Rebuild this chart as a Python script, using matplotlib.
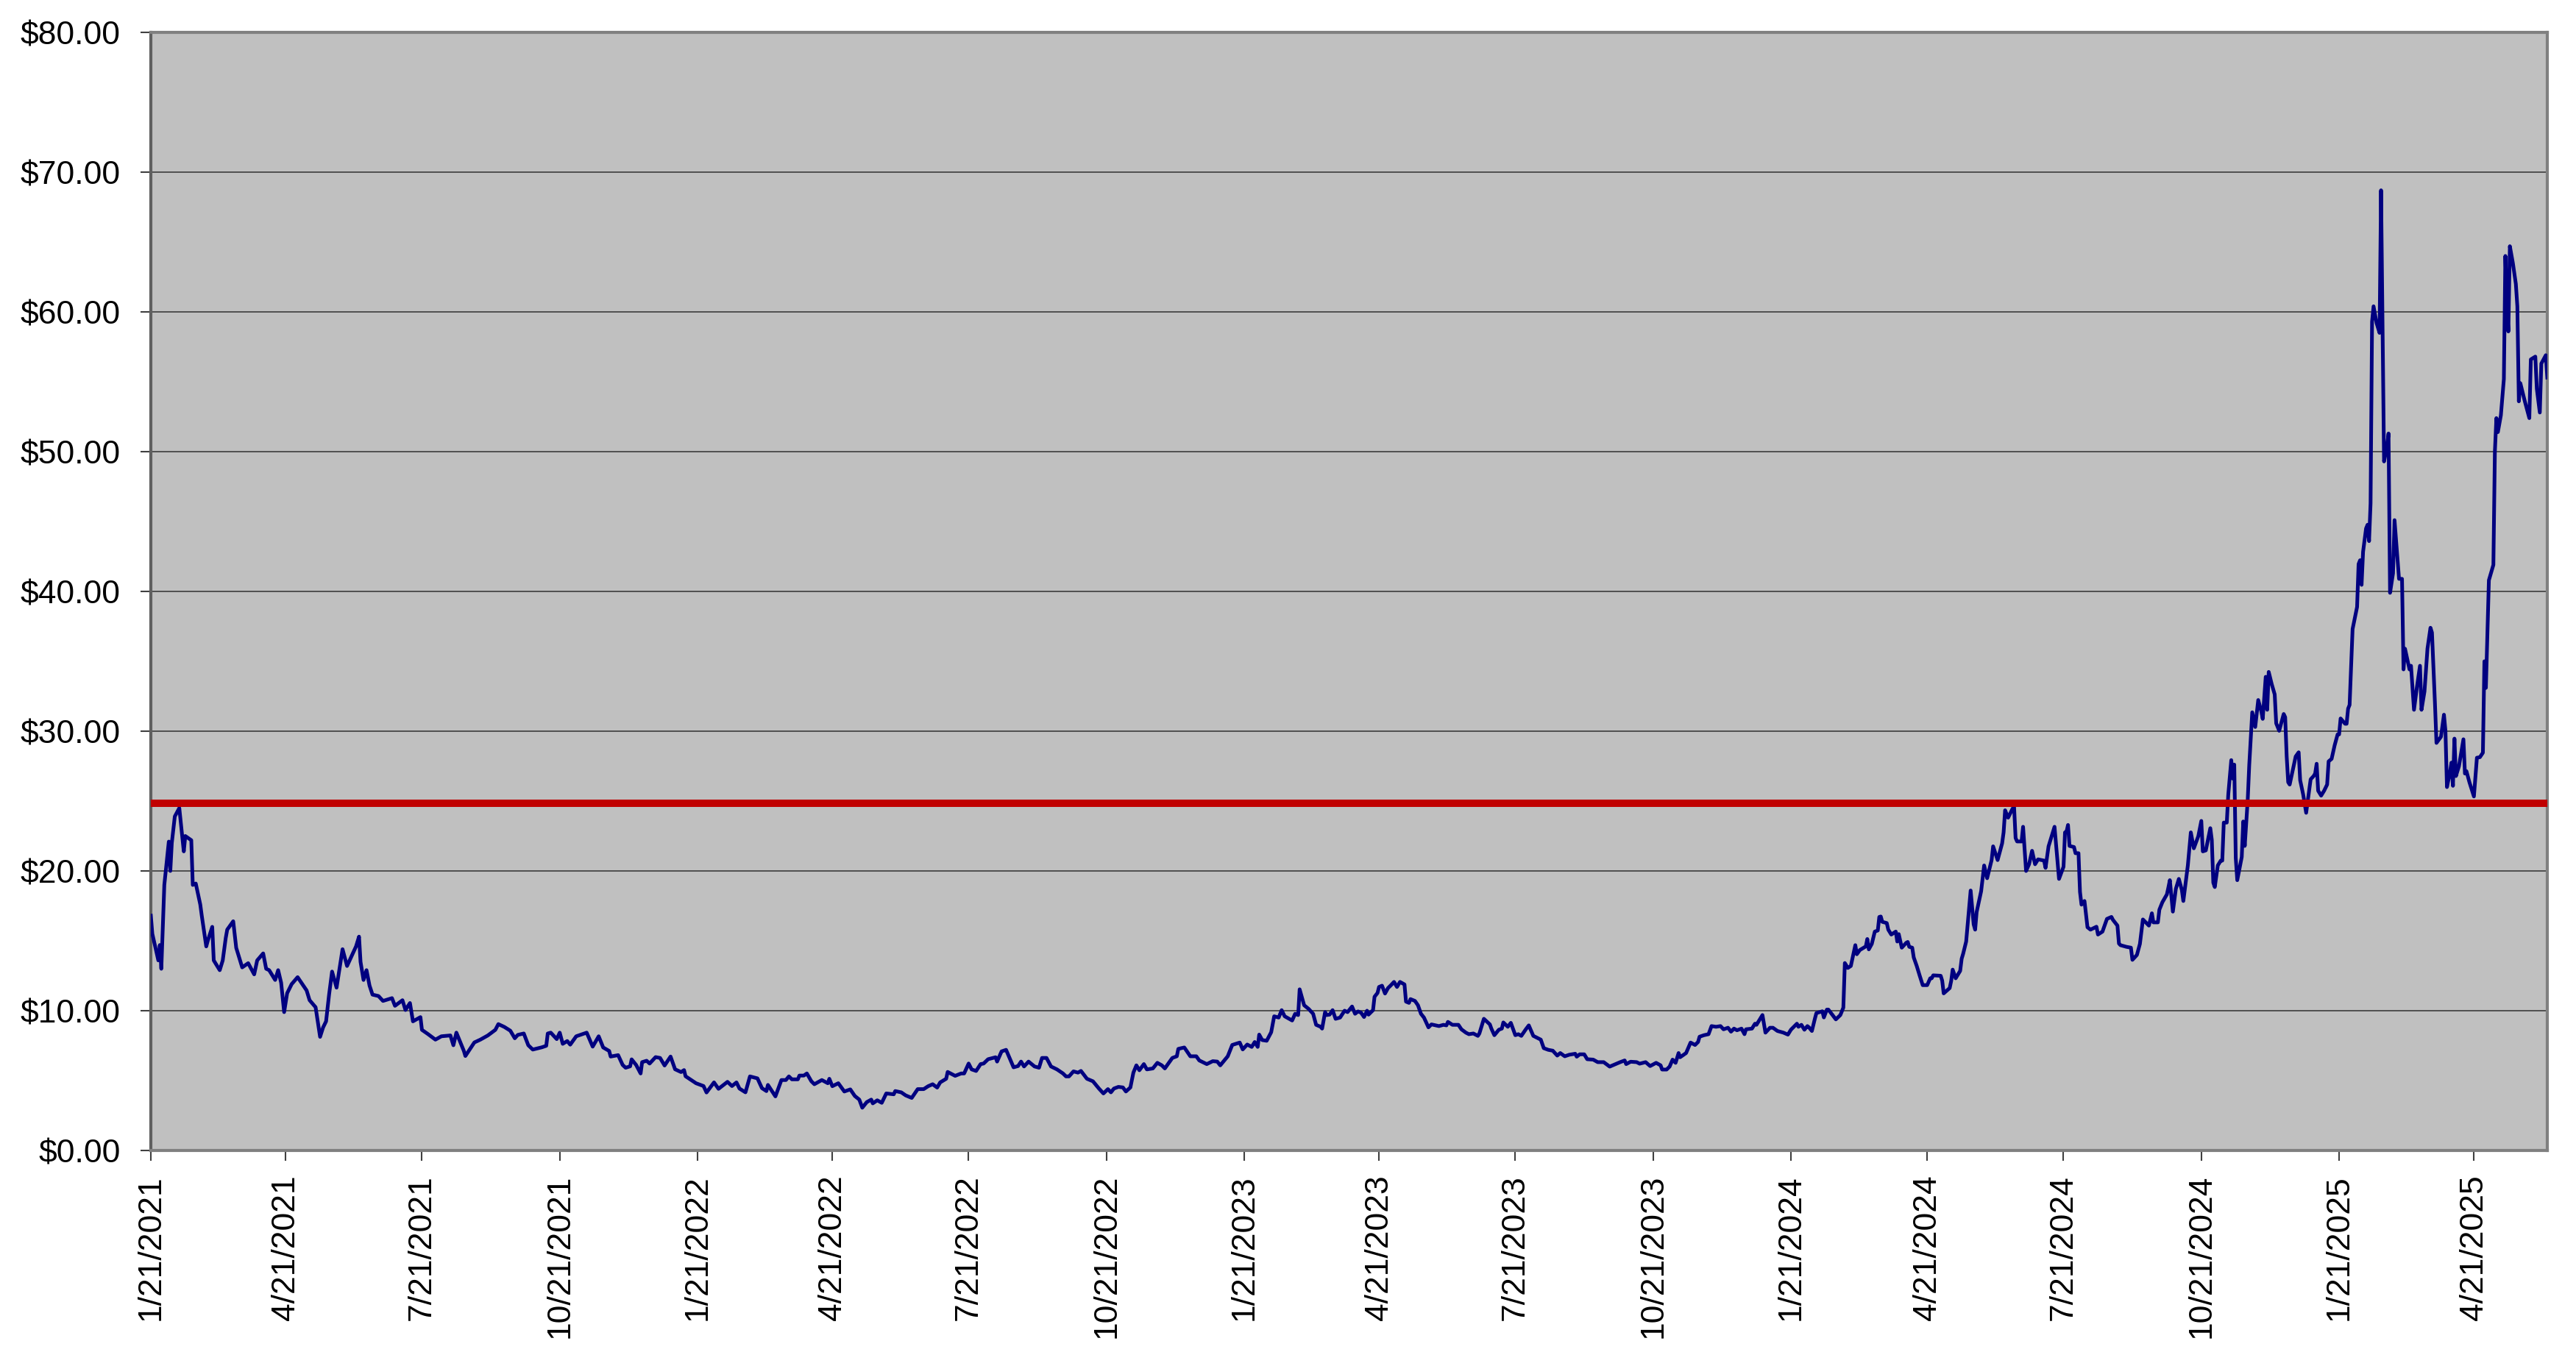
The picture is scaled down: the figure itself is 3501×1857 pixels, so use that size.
import matplotlib
matplotlib.use("Agg")
import matplotlib.pyplot as plt
import matplotlib.ticker as mticker
import pandas as pd

plt.rcParams['font.family'] = ['Liberation Sans', 'DejaVu Sans']

# price series: days after the first date, and close price
start_date = "2021-01-21"

day_offsets = [
    # 2021
    0, 1, 5, 6, 7, 9, 12, 13, 14, 16,
    19, 22, 23, 27, 28, 30, 33, 34, 37, 38,
    41, 42, 46, 48, 50, 51, 55, 57, 61, 65,
    69, 71, 75, 77, 79, 83, 85, 87, 89, 91,
    94, 98, 104, 106, 110, 113, 115, 117, 119, 121,
    124, 128, 131, 134, 137, 139, 140, 142, 144, 146,
    148, 152, 155, 161, 163, 168, 170, 173, 175, 180,
    181, 185, 190, 194, 200, 202, 204, 209, 210, 216,
    220, 225, 230, 232, 236, 240, 243, 245, 249, 252,
    255, 261, 264, 265, 267, 271, 273, 275, 278, 280,
    284, 291, 295, 299, 302, 306, 307, 312, 315, 317,
    320, 321, 324, 327, 328, 331, 333, 337, 340, 343,
    347, 350, 354, 356, 357, 364, 369, 371, 376, 379,
    385, 388,
    # 2022
    391, 393, 397, 400, 405, 408, 411, 412, 417, 421,
    424, 426, 428, 432, 433, 436, 438, 441, 443, 448,
    452, 453, 455, 459, 463, 467, 470, 473, 475, 478,
    481, 482, 485, 488, 491, 496, 497, 501, 504, 508,
    512, 516, 519, 522, 525, 527, 531, 532, 537, 541,
    543, 546, 548, 551, 554, 556, 559, 564, 565, 568,
    571, 576, 579, 581, 583, 586, 590, 593, 595, 598,
    601, 605, 609, 611, 613, 616, 619, 621, 625, 629,
    633, 636, 639, 641, 643, 646, 649, 651, 654, 656,
    658, 660, 663, 665, 669, 672, 675, 677, 682, 685,
    686, 690, 694, 698, 700, 705, 709, 712, 714, 719,
    722, 727, 729, 732, 735, 737, 739, 740, 742, 745,
    748, 750, 753, 755, 757, 762, 764, 766, 767, 770,
    773, 776, 778, 781, 782, 784,
    # 2023
    785, 787, 789, 791, 794, 797, 799, 802, 804, 806,
    808, 810, 812, 813, 816, 817, 819, 820, 822, 824,
    826, 828, 830, 832, 834, 837, 838, 840, 841, 844,
    846, 848, 850, 853, 855, 860, 863, 865, 866, 869,
    873, 875, 878, 880, 883, 886, 887, 890, 894, 895,
    897, 900, 902, 903, 906, 908, 911, 913, 915, 918,
    920, 923, 928, 930, 933, 936, 939, 941, 944, 947,
    951, 952, 954, 957, 959, 963, 966, 970, 974, 978,
    981, 984, 985, 988, 992, 994, 998, 1001, 1005, 1008,
    1009, 1012, 1014, 1016, 1018, 1020, 1021, 1025, 1028, 1031,
    1033, 1034, 1037, 1040, 1042, 1045, 1048, 1050, 1053, 1055,
    1057, 1059, 1062, 1064, 1065, 1069, 1071, 1072, 1076, 1078,
    1081, 1083, 1086, 1090, 1093, 1095, 1099, 1100, 1102,
    # 2024
    1104, 1106, 1107, 1109, 1111, 1112, 1116, 1117, 1119, 1120,
    1125, 1128, 1130, 1131, 1133, 1135, 1138, 1139, 1141, 1145,
    1146, 1147, 1149, 1151, 1153, 1154, 1155, 1156, 1159, 1160,
    1162, 1165, 1166, 1167, 1169, 1172, 1173, 1174, 1176, 1177,
    1179, 1181, 1183, 1186, 1188, 1189, 1190, 1195, 1196, 1197,
    1201, 1202, 1203, 1205, 1208, 1209, 1210, 1212, 1215, 1217,
    1218, 1219, 1222, 1224, 1226, 1229, 1230, 1233, 1236, 1237,
    1238, 1240, 1243, 1244, 1245, 1246, 1249, 1250, 1252, 1254,
    1256, 1258, 1260, 1264, 1265, 1267, 1271, 1274, 1277, 1278,
    1279, 1280, 1281, 1284, 1285, 1287, 1288, 1289, 1291, 1293,
    1295, 1299, 1300, 1303, 1306, 1309, 1310, 1313, 1314, 1315,
    1319, 1322, 1323, 1326, 1328, 1330, 1334, 1336, 1337, 1340,
    1341, 1343, 1346, 1347, 1348, 1350, 1352, 1354, 1356, 1357,
    1359,
    # late 2024 - 2025
    1360, 1362, 1364, 1367, 1369, 1370, 1372, 1375, 1376, 1377,
    1378, 1380, 1382, 1383, 1384, 1386, 1387, 1389, 1390, 1391,
    1392, 1393, 1396, 1397, 1398, 1400, 1401, 1403, 1405, 1407,
    1409, 1410, 1412, 1413, 1414, 1416, 1418, 1419, 1421, 1424,
    1425, 1426, 1427, 1428, 1432, 1434, 1435, 1437, 1439, 1440,
    1442, 1444, 1445, 1446, 1447, 1449, 1451, 1453, 1454, 1456,
    1458, 1460, 1461, 1462, 1465, 1466, 1467, 1468, 1470, 1473,
    1474, 1475, 1476, 1477, 1479, 1480, 1481, 1482, 1483, 1484,
    1486, 1488, 1489, 1491, 1493, 1494, 1495, 1497, 1498, 1501,
    1503, 1504, 1505, 1508, 1509, 1511, 1513, 1515, 1516, 1518,
    1520, 1522, 1523, 1525, 1526, 1529, 1531, 1532, 1533, 1535,
    1536, 1537, 1538, 1539, 1541, 1544, 1545, 1546, 1548, 1551,
    1553, 1555, 1557, 1558, 1559, 1560, 1561, 1564, 1565, 1566,
    1567, 1569, 1571, 1572, 1573, 1574, 1575, 1577, 1579, 1580,
    1581, 1582, 1585, 1586, 1588, 1589, 1592, 1593, 1595, 1596,
    1599, 1600,
]

prices = [
    # 2021
    16.8, 15.5, 13.6, 14.7, 13.0, 19.0, 22.1, 20.0, 22.0, 23.9,
    24.5, 21.4, 22.5, 22.2, 19.0, 19.1, 17.6, 16.8, 14.6, 15.0,
    16.0, 13.6, 12.9, 13.6, 15.2, 15.8, 16.4, 14.5, 13.1, 13.4,
    12.6, 13.6, 14.1, 13.0, 12.9, 12.2, 12.9, 12.0, 9.9, 11.25,
    11.9, 12.4, 11.45, 10.75, 10.25, 8.13, 8.8, 9.24, 11.15, 12.8,
    11.65, 14.4, 13.2, 13.9, 14.6, 15.3, 13.5, 12.2, 12.9, 11.8,
    11.15, 11.05, 10.7, 10.9, 10.35, 10.75, 10.05, 10.55, 9.24, 9.54,
    8.63, 8.33, 7.93, 8.17, 8.23, 7.53, 8.43, 7.12, 6.76, 7.73,
    7.93, 8.23, 8.63, 9.04, 8.84, 8.57, 8.03, 8.27, 8.37, 7.53,
    7.22, 7.38, 7.49, 8.37, 8.43, 7.97, 8.43, 7.63, 7.83, 7.57,
    8.17, 8.43, 7.43, 8.17, 7.37, 7.12, 6.72, 6.82, 6.12, 5.92,
    6.02, 6.52, 6.12, 5.51, 6.32, 6.42, 6.22, 6.68, 6.62, 6.08,
    6.72, 5.81, 5.61, 5.75, 5.31, 4.81, 4.61, 4.15, 4.87, 4.41,
    4.91, 4.61,
    # 2022
    4.87, 4.43, 4.16, 5.30, 5.16, 4.46, 4.25, 4.69, 3.87, 5.04,
    5.04, 5.30, 5.09, 5.09, 5.36, 5.36, 5.51, 4.95, 4.74, 5.04,
    4.81, 5.13, 4.60, 4.81, 4.22, 4.37, 3.90, 3.64, 3.06, 3.46,
    3.64, 3.37, 3.59, 3.41, 4.08, 4.02, 4.25, 4.16, 3.94, 3.76,
    4.39, 4.39, 4.60, 4.74, 4.50, 4.87, 5.13, 5.62, 5.34, 5.51,
    5.51, 6.22, 5.80, 5.69, 6.18, 6.22, 6.53, 6.67, 6.36, 7.09,
    7.20, 5.95, 6.04, 6.36, 6.01, 6.36, 6.01, 5.92, 6.62, 6.62,
    6.01, 5.80, 5.51, 5.30, 5.30, 5.66, 5.57, 5.69, 5.13, 4.95,
    4.43, 4.08, 4.39, 4.16, 4.43, 4.55, 4.51, 4.22, 4.51, 5.57,
    6.09, 5.74, 6.18, 5.80, 5.87, 6.27, 6.09, 5.87, 6.62, 6.74,
    7.27, 7.37, 6.74, 6.74, 6.44, 6.18, 6.39, 6.36, 6.09, 6.74,
    7.55, 7.72, 7.23, 7.58, 7.41, 7.76, 7.41, 8.29, 7.90, 7.85,
    8.46, 9.60, 9.51, 10.04, 9.60, 9.30, 9.78, 9.69, 11.53, 10.39,
    10.13, 9.78, 8.99, 8.85, 8.72, 9.90,
    # 2023
    9.69, 9.72, 10.04, 9.42, 9.51, 10.0, 9.90, 10.30, 9.78, 9.95,
    9.86, 9.55, 10.0, 9.72, 10.04, 11.0, 11.27, 11.70, 11.79, 11.23,
    11.62, 11.83, 12.06, 11.70, 12.06, 11.88, 10.65, 10.56, 10.83, 10.70,
    10.39, 9.78, 9.51, 8.81, 9.02, 8.90, 8.99, 8.95, 9.20, 8.99,
    8.99, 8.67, 8.43, 8.32, 8.37, 8.20, 8.37, 9.42, 9.02, 8.72,
    8.25, 8.64, 8.72, 9.16, 8.85, 9.13, 8.25, 8.32, 8.20, 8.67,
    8.95, 8.20, 7.93, 7.32, 7.20, 7.14, 6.79, 6.97, 6.74, 6.85,
    6.92, 6.71, 6.88, 6.88, 6.53, 6.50, 6.32, 6.32, 6.00, 6.18,
    6.32, 6.44, 6.18, 6.35, 6.32, 6.21, 6.32, 6.04, 6.27, 6.09,
    5.79, 5.79, 6.00, 6.50, 6.27, 6.97, 6.67, 6.97, 7.72, 7.55,
    7.76, 8.14, 8.25, 8.32, 8.90, 8.85, 8.90, 8.67, 8.78, 8.50,
    8.72, 8.60, 8.72, 8.32, 8.67, 8.72, 9.07, 8.99, 9.69, 8.43,
    8.78, 8.78, 8.55, 8.43, 8.29, 8.64, 9.07, 8.85, 8.99,
    # 2024
    8.64, 8.90, 8.81, 8.55, 9.43, 9.83, 9.96, 9.52, 10.08, 10.08,
    9.38, 9.69, 10.22, 13.41, 13.06, 13.20, 14.69, 14.04, 14.34, 14.60,
    15.13, 14.39, 14.78, 15.66, 15.74, 16.71, 16.74, 16.36, 16.27, 15.80,
    15.45, 15.66, 14.95, 15.48, 14.51, 14.86, 14.92, 14.57, 14.51, 13.81,
    13.20, 12.50, 11.83, 11.83, 12.32, 12.32, 12.53, 12.50, 12.15, 11.24,
    11.62, 12.13, 12.94, 12.32, 12.85, 13.72, 14.08, 14.95, 18.60, 16.18,
    15.80, 17.06, 18.55, 20.39, 19.48, 20.78, 21.76, 20.78, 21.97, 22.76,
    24.34, 23.81, 24.46, 24.57, 22.36, 22.11, 22.11, 23.16, 20.0, 20.48,
    21.44, 20.48, 20.83, 20.74, 20.22, 21.76, 23.16, 19.43, 20.30, 22.76,
    22.81, 23.29, 21.79, 21.71, 21.27, 21.27, 18.50, 17.59, 17.85, 15.97,
    15.80, 16.01, 15.45, 15.66, 16.57, 16.71, 16.50, 16.09, 14.81, 14.69,
    14.57, 14.51, 13.64, 13.99, 14.78, 16.53, 16.09, 16.97, 16.32, 16.32,
    17.23, 17.76, 18.32, 18.81, 19.34, 17.09, 18.72, 19.43, 18.64, 17.85,
    19.52,
    # late 2024 - 2025
    20.39, 22.76, 21.62, 22.49, 23.58, 21.40, 21.47, 23.06, 22.23, 19.16,
    18.85, 20.39, 20.74, 20.74, 23.46, 23.46, 25.47, 27.93, 26.61, 27.61,
    20.91, 19.34, 21.0, 23.54, 21.79, 25.12, 27.58, 31.35, 30.30, 32.23,
    31.44, 30.88, 33.89, 31.53, 34.24, 33.37, 32.63, 30.56, 30.03, 31.23,
    31.0, 28.19, 26.35, 26.18, 28.19, 28.49, 26.49, 25.47, 24.16, 24.95,
    26.56, 26.79, 26.97, 27.67, 25.74, 25.39, 25.74, 26.18, 27.84, 28.02,
    28.98, 29.77, 29.77, 30.91, 30.53, 30.53, 31.61, 31.88, 37.31, 38.89,
    41.96, 42.23, 40.47, 42.84, 44.51, 44.77, 43.6, 46.3, 59.3, 60.4,
    59.2, 58.5, 68.7, 49.3, 50.4, 51.3, 39.9, 41.3, 45.1, 40.9,
    40.9, 34.42, 35.9, 34.42, 34.68, 31.53, 33.2, 34.68, 31.53, 32.84,
    35.91, 37.4, 37.05, 31.96, 29.16, 29.6, 31.18, 30.03, 26.0, 27.05,
    27.75, 26.09, 29.47, 26.79, 27.49, 29.42, 26.97, 27.14, 26.35, 25.33,
    28.1, 28.14, 28.46, 35.0, 33.1, 37.0, 40.8, 41.9, 50.0, 52.4,
    51.4, 52.6, 55.2, 64.0, 60.5, 58.6, 64.7, 63.5, 62.0, 60.4,
    53.6, 54.9, 53.6, 53.2, 52.4, 56.6, 56.8, 54.5, 52.8, 56.3,
    56.9, 55.3,
]

threshold = 24.85

tick_labels = [
    "1/21/2021", "4/21/2021", "7/21/2021", "10/21/2021",
    "1/21/2022", "4/21/2022", "7/21/2022", "10/21/2022",
    "1/21/2023", "4/21/2023", "7/21/2023", "10/21/2023",
    "1/21/2024", "4/21/2024", "7/21/2024", "10/21/2024",
    "1/21/2025", "4/21/2025",
]

assert len(day_offsets) == len(prices)

dates = pd.Timestamp(start_date) + pd.to_timedelta(day_offsets, unit="D")
tick_dates = pd.to_datetime(tick_labels, format="%m/%d/%Y")

fig = plt.figure(figsize=(3501 / 300, 1857 / 300), dpi=300)
ax = fig.add_axes([205 / 3501, 1 - 1564 / 1857, (3462 - 205) / 3501, (1564 - 44) / 1857])
ax.set_facecolor("#C0C0C0")

ax.plot(dates, prices, color="#000080", linewidth=1.2, zorder=3)
ax.axhline(threshold, color="#C00000", linewidth=2.4, zorder=4)

ax.set_ylim(0, 80)
ax.set_xlim(dates[0], dates[-1])
ax.yaxis.set_major_locator(mticker.MultipleLocator(10))
ax.yaxis.set_major_formatter(mticker.StrMethodFormatter("${x:.2f}"))
ax.set_xticks(tick_dates)
ax.set_xticklabels(tick_labels, rotation=90)

ax.grid(axis="y", color="#3c3c3c", linewidth=0.4)
ax.set_axisbelow(True)

for side in ["top", "right", "bottom", "left"]:
    ax.spines[side].set_color("#808080")
    ax.spines[side].set_linewidth(1.0)
ax.spines["left"].set_color("#606060")

ax.tick_params(axis="both", direction="out", length=3.4, width=0.5,
               color="#404040", labelsize=10.7, labelcolor="black")
ax.tick_params(axis="y", pad=6.5)
ax.tick_params(axis="x", pad=4.5)

fig.savefig("out.png", dpi=300)
